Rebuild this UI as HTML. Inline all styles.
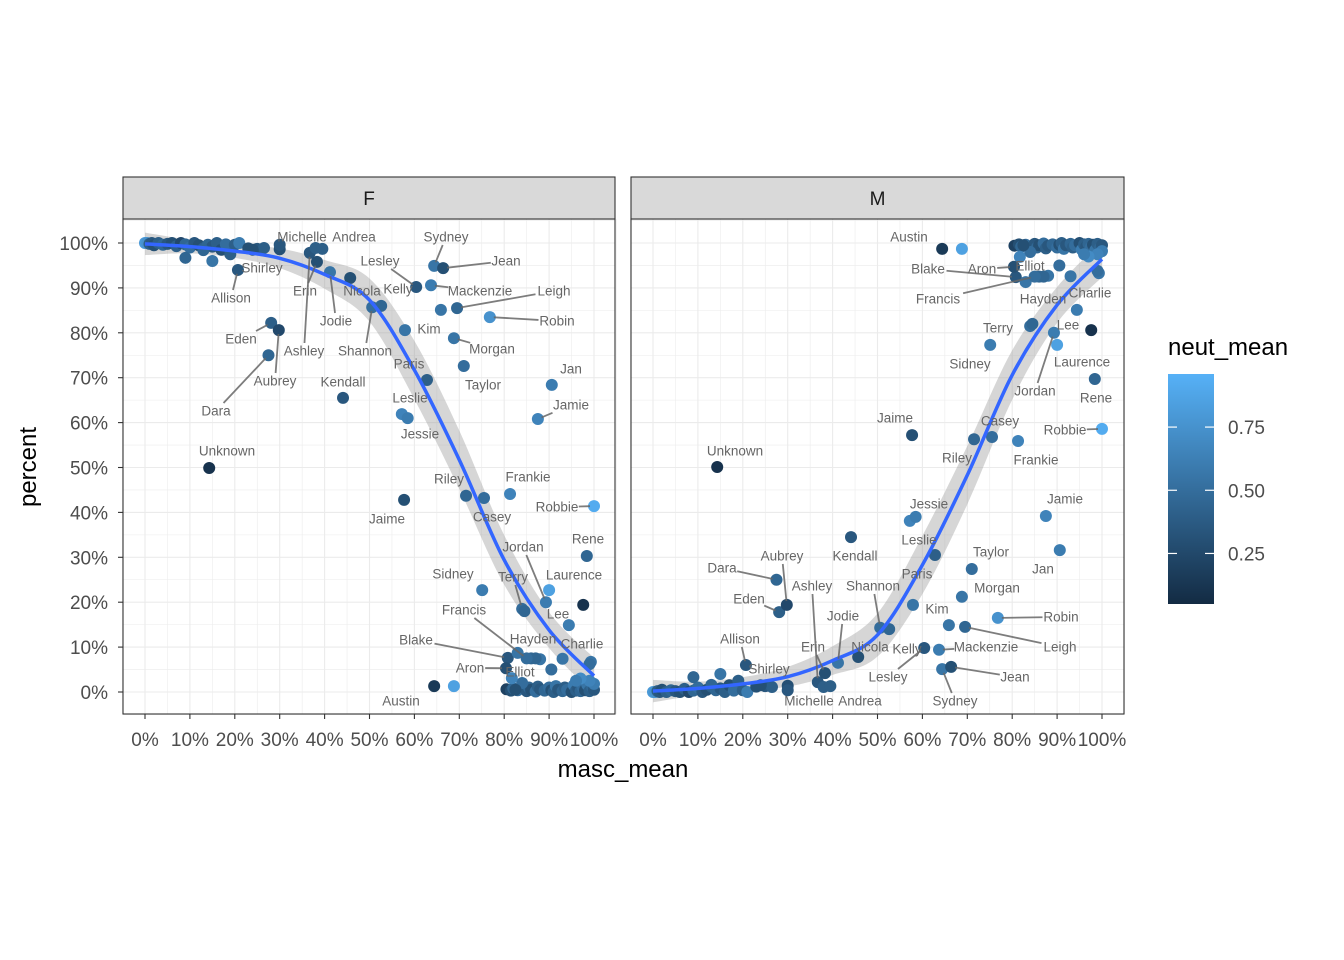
<!DOCTYPE html>
<html><head><meta charset="utf-8"><style>
body{margin:0;background:#fff;}
svg{display:block;font-family:"Liberation Sans",sans-serif;}
</style></head><body>
<svg id="chart" width="1344" height="960" viewBox="0 0 1344 960"></svg>
<script>
// ---- data ----
const names=["Unknown","Dara","Eden","Aubrey","Allison","Shirley","Ashley","Erin","Michelle","Andrea","Jodie","Nicola","Shannon","Kelly","Lesley","Sydney","Jean","Mackenzie","","Leigh","Robin","Kim","Morgan","Paris","Taylor","Kendall","Leslie","Jessie","Jan","Jamie","Jaime","Riley","Casey","Frankie","Robbie","Rene","Sidney","Laurence","Jordan","Terry","Lee","Blake","Hayden","Charlie","Aron","Elliot","Francis","Austin","","","",""];
const masc=[14.3,27.5,28.1,29.8,20.7,24,36.7,38.3,38,39.5,41.2,45.7,50.6,52.6,60.4,64.4,66.4,63.7,65.9,69.5,76.8,57.9,68.8,62.8,71,44.1,57.2,58.5,90.6,87.5,57.7,71.5,75.5,81.3,100,98.4,75.1,90,89.3,84,94.4,80.8,83,99.3,80.4,81.7,85,64.4,68.8,97.6,99,84.5];
const pctF=[49.9,75,82.2,80.6,94,98.5,97.8,95.8,98.9,98.7,93.5,92.2,85.7,86,90.2,94.9,94.4,90.6,85.1,85.5,83.5,80.6,78.8,69.5,72.6,65.5,61.9,61,68.4,60.8,42.8,43.7,43.2,44.1,41.4,30.3,22.7,22.7,20,18.5,14.9,7.6,8.7,6.7,5.3,3.1,7.5,1.3,1.3,19.4,6.2,18];
const neut=[0.1,0.45,0.4,0.25,0.35,0.3,0.35,0.3,0.4,0.4,0.55,0.3,0.5,0.45,0.35,0.55,0.3,0.6,0.55,0.45,0.75,0.55,0.55,0.4,0.5,0.35,0.65,0.6,0.6,0.65,0.3,0.45,0.5,0.65,0.92,0.45,0.6,0.85,0.6,0.5,0.6,0.35,0.55,0.55,0.3,0.65,0.5,0.15,0.85,0.1,0.5,0.45];
// clusters (unnamed)
const clMasc=[0,0.5,1,1.5,2,3,4,5,6,7,8,9,10,11,12,13,14,15,16,17,18,20,21,23,25,26.5,9,15,19,13,30,30,
 80.5,81.5,82,83,84,85,85.5,86,87,87.5,88,89,90,90.5,91,91.5,92,93,93.5,94,95,95.5,96,96.5,97,97.5,98,98.5,99,99.5,100,100,99,97,96,88,86,84,82.5,90.5,93,87];
const clPct=[100,100,99.8,100,99.5,100,99.6,99.8,100,99.3,100,99.7,99,100,99.5,98.8,99.6,99.2,100,98.5,99.7,99.6,100,98.8,98.7,98.9,96.7,96,97.5,98.4,98.6,99.6,
 0.6,0.3,0.8,0.4,1.5,0.2,1,0.5,0.1,1.2,0.6,0.3,1,0.4,0,1.3,0.5,0.2,1,0.5,0,1.5,0.3,0.8,0.2,1,0.4,1.6,0.2,1.2,0.5,1.8,2.5,3,2.5,7.3,7.5,2,0.5,5,7.4,7.5];
const clNeut=[0.8,0.75,0.4,0.35,0.3,0.4,0.45,0.35,0.3,0.4,0.25,0.45,0.5,0.35,0.3,0.4,0.45,0.35,0.4,0.3,0.5,0.4,0.6,0.3,0.35,0.4,0.45,0.55,0.4,0.45,0.3,0.35,
 0.2,0.3,0.45,0.5,0.4,0.35,0.45,0.3,0.5,0.4,0.35,0.45,0.5,0.3,0.4,0.55,0.35,0.45,0.4,0.5,0.3,0.6,0.4,0.35,0.45,0.5,0.3,0.55,0.4,0.45,0.35,0.6,0.65,0.7,0.6,0.55,0.45,0.5,0.3,0.5,0.55,0.45];
// smooth fit (female panel), male = 100 - F
const smoothX=[0,10,20,30,40,50,60,70,80,90,100];
const smoothF=[99.8,99.2,98.2,96.6,93,87.3,71.7,51.7,29.4,13.8,3.6];
const smoothSE=[2.5,1.5,1.5,2.2,3.2,4.8,6.5,6.5,5.5,4,4];
const xTicks=[0,10,20,30,40,50,60,70,80,90,100];
const yTicks=[0,10,20,30,40,50,60,70,80,90,100];
const legendTicks=[0.25,0.5,0.75];
// label layout (pixel positions of repel labels, reference layout)
const labF={Unknown:[227,451],Dara:[216,411],Aubrey:[275,381],Eden:[241,339],Allison:[231,298],Shirley:[262,268],Ashley:[304,351],Erin:[305,291],Michelle:[302,237],Andrea:[354,237],Jodie:[336,321],Nicola:[362,291],Shannon:[365,351],Kelly:[398,289],Lesley:[380,261],Sydney:[446,237],Jean:[506,261],Mackenzie:[480,291],Leigh:[554,291],Robin:[557,321],Kim:[429,329],Morgan:[492,349],Paris:[409,364],Taylor:[483,385],Kendall:[343,382],Leslie:[410,398],Jessie:[420,434],Jan:[571,369],Jamie:[571,405],Jaime:[387,519],Riley:[449,479],Casey:[492,517],Frankie:[528,477],Robbie:[557,507],Rene:[588,539],Jordan:[523,547],Sidney:[453,574],Laurence:[574,575],Terry:[513,577],Francis:[464,610],Lee:[558,614],Blake:[416,640],Hayden:[533,639],Charlie:[582,644],Aron:[470,668],Elliot:[520,672],Austin:[401,701]};
const labM={Unknown:[735,451],Austin:[909,237],Blake:[928,269],Aron:[982,269],Elliot:[1030,266],Francis:[938,299],Hayden:[1043,299],Charlie:[1090,293],Terry:[998,328],Lee:[1068,325],Sidney:[970,364],Laurence:[1082,362],Jordan:[1035,391],Rene:[1096,398],Jaime:[895,418],Casey:[1000,421],Robbie:[1065,430],Riley:[957,458],Frankie:[1036,460],Jamie:[1065,499],Jessie:[929,504],Leslie:[919,540],Kendall:[855,556],Taylor:[991,552],Aubrey:[782,556],Dara:[722,568],Jan:[1043,569],Paris:[917,574],Ashley:[812,586],Shannon:[873,586],Morgan:[997,588],Eden:[749,599],Kim:[937,609],Robin:[1061,617],Jodie:[843,616],Allison:[740,639],Erin:[813,647],Nicola:[870,647],Kelly:[907,649],Mackenzie:[986,647],Leigh:[1060,647],Shirley:[769,669],Lesley:[888,677],Jean:[1015,677],Michelle:[809,701],Andrea:[860,701],Sydney:[955,701]};

// ---- helpers ----
const NS="http://www.w3.org/2000/svg";
const svg=document.getElementById('chart');
function mk(tag,attrs,parent){const e=document.createElementNS(NS,tag);for(const k in attrs)e.setAttribute(k,attrs[k]);(parent||svg).appendChild(e);return e;}
const lo=[0x13,0x2B,0x43],hi=[0x56,0xB1,0xF7];
function col(v){let t=(v-0.05)/(0.96-0.05);t=Math.max(0,Math.min(1,t));return 'rgb('+lo.map((c,i)=>Math.round(c+(hi[i]-c)*t)).join(',')+')';}
const PT=219,PB=714,yS=v=>692-v*4.49;
const panels=[{key:'F',x0:123,x1:615,origin:145},{key:'M',x0:631,x1:1124,origin:653}];
function crPath(pts){let d='M'+pts[0][0]+','+pts[0][1];for(let i=0;i<pts.length-1;i++){const p0=pts[Math.max(0,i-1)],p1=pts[i],p2=pts[i+1],p3=pts[Math.min(pts.length-1,i+2)];
 d+=' C'+(p1[0]+(p2[0]-p0[0])/6)+','+(p1[1]+(p2[1]-p0[1])/6)+' '+(p2[0]-(p3[0]-p1[0])/6)+','+(p2[1]-(p3[1]-p1[1])/6)+' '+p2[0]+','+p2[1];}return d;}

panels.forEach(p=>{
 const xS=v=>p.origin+v*4.49;
 const g=mk('g',{});
 
 
 mk('rect',{x:p.x0,y:PT,width:p.x1-p.x0,height:PB-PT,fill:'#fff'},g);
 for(let v=-5;v<=105;v+=5){const major=v%10===0;
  const l1=mk('line',{x1:xS(v),x2:xS(v),y1:PT,y2:PB,stroke:'#EBEBEB','stroke-width':major?1.1:0.55},g);
  
  
  const l2=mk('line',{x1:p.x0,x2:p.x1,y1:yS(v),y2:yS(v),stroke:'#EBEBEB','stroke-width':major?1.1:0.55},g);
  
  }
 const f=p.key==='F'?(v=>v):(v=>100-v);
 // ribbon
 const up=smoothX.map((x,i)=>[xS(x),yS(f(smoothF[i])+smoothSE[i])]);
 const dn=smoothX.map((x,i)=>[xS(x),yS(f(smoothF[i])-smoothSE[i])]).reverse();
 const rib=mk('path',{d:crPath(up)+' L'+dn[0][0]+','+dn[0][1]+crPath(dn).replace(/^M[^ ]+/,'')+' Z',fill:'#999','fill-opacity':0.4},g);
 
 
 const allM=clMasc.concat(masc),allP=clPct.concat(pctF),allN=clNeut.concat(neut);
 allM.forEach((m,i)=>{const c=mk('circle',{cx:xS(m),cy:yS(f(allP[i])),r:6,fill:col(allN[i])},g);
  
  });
 const line=mk('path',{d:crPath(smoothX.map((x,i)=>[xS(x),yS(f(smoothF[i]))])),fill:'none',stroke:'#3366FF','stroke-width':3.5},g);
 
 
 // labels
 const lab=p.key==='F'?labF:labM;
 names.forEach((n,i)=>{if(!n||!lab[n])return;const [lx,ly]=lab[n];const px=xS(masc[i]),py=yS(f(pctF[i]));
  const hw=n.length*3.3+2,hh=8;const dx=px-lx,dy=py-ly;
  if(Math.abs(dx)>hw+14||Math.abs(dy)>hh+14){const s=Math.min(hw/Math.abs(dx||1e-6),hh/Math.abs(dy||1e-6));
   const seg=mk('line',{x1:lx+dx*s,y1:ly+dy*s,x2:px-dx/Math.hypot(dx,dy)*4,y2:py-dy/Math.hypot(dx,dy)*4,stroke:'#666','stroke-width':1.8,'stroke-opacity':0.85},g);
   
   }
  const t=mk('text',{x:lx,y:ly+4.5,'text-anchor':'middle','font-size':13.5,fill:'#666'},g);t.textContent=n;
  
  });
 const br=mk('rect',{x:p.x0,y:PT,width:p.x1-p.x0,height:PB-PT,fill:'none',stroke:'#333','stroke-width':1.1},g);
 
 
 const st=mk('rect',{x:p.x0,y:177,width:p.x1-p.x0,height:42,fill:'#D9D9D9',stroke:'#333','stroke-width':1.1},g);
 
 
 const stt=mk('text',{x:(p.x0+p.x1)/2,y:205,'text-anchor':'middle','font-size':19,fill:'#1A1A1A'},g);stt.textContent=p.key;
 
 
 xTicks.forEach(v=>{const tk=mk('line',{x1:xS(v),x2:xS(v),y1:PB,y2:PB+5,stroke:'#333','stroke-width':1.1},g);
  
  
  const t=mk('text',{x:xS(v),y:746,'text-anchor':'middle','font-size':19,fill:'#4D4D4D'},g);t.textContent=v+'%';
  
  });
});
yTicks.forEach(v=>{const tk=mk('line',{x1:118,x2:123,y1:yS(v),y2:yS(v),stroke:'#333','stroke-width':1.1});
 
 
 const t=mk('text',{x:108,y:yS(v)+7,'text-anchor':'end','font-size':19,fill:'#4D4D4D'});t.textContent=v+'%';
 
 });
const xt=mk('text',{x:623,y:777,'text-anchor':'middle','font-size':24,fill:'#000'});xt.textContent='masc_mean';


const yt=mk('text',{x:36,y:467,'text-anchor':'middle','font-size':24,fill:'#000',transform:'rotate(-90 36 467)'});yt.textContent='percent';


// legend
const defs=mk('defs',{});const lg=mk('linearGradient',{id:'lg',x1:0,y1:1,x2:0,y2:0},defs);
mk('stop',{offset:0,'stop-color':col(0.05)},lg);mk('stop',{offset:1,'stop-color':col(0.96)},lg);
const lt=mk('text',{x:1168,y:355,'font-size':24,fill:'#000'});lt.textContent='neut_mean';


const bar=mk('rect',{x:1168,y:374,width:46,height:230,fill:'url(#lg)'});


const lY=v=>604-(v-0.05)/(0.96-0.05)*230;
legendTicks.forEach(v=>{const y=lY(v);
 mk('line',{x1:1168,x2:1177,y1:y,y2:y,stroke:'#fff','stroke-width':1.2});mk('line',{x1:1205,x2:1214,y1:y,y2:y,stroke:'#fff','stroke-width':1.2});
 const t=mk('text',{x:1228,y:y+7,'font-size':19,fill:'#4D4D4D'});t.textContent=v.toFixed(2);
 
 });
</script>
</body></html>
